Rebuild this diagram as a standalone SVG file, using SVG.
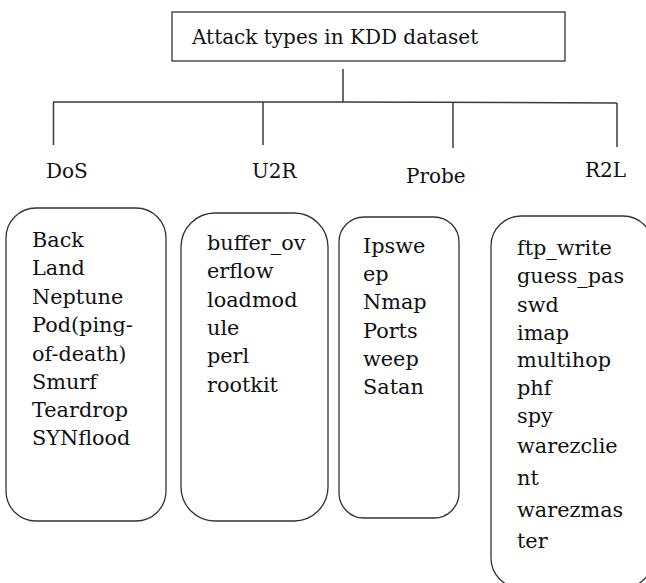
<svg xmlns="http://www.w3.org/2000/svg" width="646" height="583" viewBox="0 0 646 583">
  <style>
    .t { font-family: "DejaVu Serif", "Liberation Serif", serif; font-size: 20px; fill: #111; }
    .item { font-size: 20.8px; }
    .box { fill: none; stroke: #333; stroke-width: 1.3; }
    .ln { fill: none; stroke: #3a3a3a; stroke-width: 1.5; }
  </style>
  <rect width="646" height="583" fill="#fff"/>

  <g id="connectors">
    <line class="ln" x1="343" y1="69" x2="343" y2="102"/>
    <polyline class="ln" points="53,102 343,102 617,103"/>
    <line class="ln" x1="53.5" y1="102" x2="53.5" y2="145"/>
    <line class="ln" x1="263" y1="102" x2="263" y2="145"/>
    <line class="ln" x1="453" y1="103" x2="453" y2="148"/>
    <line class="ln" x1="617" y1="103" x2="617" y2="147"/>
  </g>

  <g id="root">
    <rect class="box" x="172" y="12" width="393" height="49"/>
    <text class="t" x="192" y="44" font-size="20.1">Attack types in KDD dataset</text>
  </g>

  <g id="label-dos"><text class="t" x="46" y="178">DoS</text></g>
  <g id="label-u2r"><text class="t" x="252" y="178">U2R</text></g>
  <g id="label-probe"><text class="t" x="406" y="183">Probe</text></g>
  <g id="label-r2l"><text class="t" x="585" y="177">R2L</text></g>

  <g id="dos">
    <rect class="box" x="6" y="208" width="160" height="313" rx="30"/>
    <text class="t item">
      <tspan x="32" y="247">Back</tspan>
      <tspan x="32" y="275.3">Land</tspan>
      <tspan x="32" y="303.6">Neptune</tspan>
      <tspan x="32" y="331.9">Pod(ping-</tspan>
      <tspan x="32" y="360.5">of-death)</tspan>
      <tspan x="32" y="388.6">Smurf</tspan>
      <tspan x="32" y="416.8">Teardrop</tspan>
      <tspan x="32" y="445">SYNflood</tspan>
    </text>
  </g>

  <g id="u2r">
    <rect class="box" x="181" y="213" width="147" height="308" rx="34"/>
    <text class="t item">
      <tspan x="207" y="250">buffer_ov</tspan>
      <tspan x="207" y="278.3">erflow</tspan>
      <tspan x="207" y="306.6">loadmod</tspan>
      <tspan x="207" y="334.9">ule</tspan>
      <tspan x="207" y="363.2">perl</tspan>
      <tspan x="207" y="391.5">rootkit</tspan>
    </text>
  </g>

  <g id="probe">
    <rect class="box" x="339" y="217" width="120" height="301" rx="25"/>
    <text class="t item">
      <tspan x="363" y="252.7">Ipswe</tspan>
      <tspan x="363" y="281">ep</tspan>
      <tspan x="363" y="309.3">Nmap</tspan>
      <tspan x="363" y="337.6">Ports</tspan>
      <tspan x="363" y="365.9">weep</tspan>
      <tspan x="363" y="394.2">Satan</tspan>
    </text>
  </g>

  <g id="r2l">
    <rect class="box" x="491" y="216" width="162" height="372" rx="30"/>
    <text class="t item">
      <tspan x="517" y="255">ftp_write</tspan>
      <tspan x="517" y="283.3">guess_pas</tspan>
      <tspan x="517" y="311.6">swd</tspan>
      <tspan x="517" y="339.5">imap</tspan>
      <tspan x="517" y="367">multihop</tspan>
      <tspan x="517" y="395">phf</tspan>
      <tspan x="517" y="422.5">spy</tspan>
      <tspan x="517" y="452.5">warezclie</tspan>
      <tspan x="517" y="485">nt</tspan>
      <tspan x="517" y="516.5">warezmas</tspan>
      <tspan x="517" y="548">ter</tspan>
    </text>
  </g>
</svg>
